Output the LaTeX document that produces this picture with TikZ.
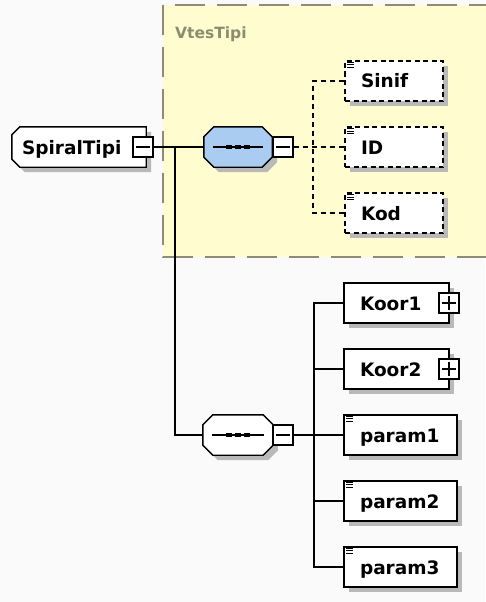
\documentclass[tikz,border=0pt]{standalone}
\usepackage{fontspec}
\setmainfont{DejaVu Sans}
\usetikzlibrary{shadows,calc}

\definecolor{pagebg}{RGB}{250,250,250}
\definecolor{groupfill}{RGB}{255,253,208}
\definecolor{groupline}{RGB}{140,140,120}
\definecolor{grouptext}{RGB}{140,140,110}
\definecolor{seqblue}{RGB}{170,204,240}
\definecolor{shadowgray}{RGB}{185,185,185}

\pgfdeclarelayer{back}
\pgfdeclarelayer{under}
\pgfsetlayers{back,under,main}

\tikzset{
  wire/.style={line width=1.4pt},
  dwire/.style={line width=1.3pt, dash pattern=on 5pt off 4pt},
  elem/.style={draw, line width=1.4pt, fill=white, rectangle,
    minimum height=40pt, inner ysep=0pt, inner xsep=16pt,
    text height=14pt, text depth=0pt, align=left,
    font=\fontsize{18.5}{21}\selectfont\bfseries,
    drop shadow={shadow xshift=5pt, shadow yshift=-5pt, fill=shadowgray, opacity=1}},
  optelem/.style={elem, line width=1.3pt, dash pattern=on 5pt off 3.5pt},
  holder/.style={rectangle, draw=none, inner ysep=0pt, minimum height=40pt,
    text height=14pt, text depth=0pt, align=left,
    font=\fontsize{18.5}{21}\selectfont\bfseries},
  toggle/.style={draw, line width=1.2pt, fill=white, rectangle,
    minimum size=20pt, inner sep=0pt},
}

% element tab: left corners cut
\newcommand\tabpath[3]{%
  \path[#3] ([xshift=#2]#1.north west) -- (#1.north east) -- (#1.south east)
    -- ([xshift=#2]#1.south west) -- ([yshift=#2]#1.south west)
    -- ([yshift=-#2]#1.north west) -- cycle;}
% sequence compositor: all corners cut
\newcommand\octpath[3]{%
  \path[#3] ([xshift=#2]#1.north west) -- ([xshift=-#2]#1.north east)
    -- ([yshift=-#2]#1.north east) -- ([yshift=#2]#1.south east)
    -- ([xshift=-#2]#1.south east) -- ([xshift=#2]#1.south west)
    -- ([yshift=#2]#1.south west) -- ([yshift=-#2]#1.north west) -- cycle;}
% sequence glyph: line with three dots
\newcommand\seqglyph[1]{%
  \draw[wire] ([xshift=9pt]#1.west) -- ([xshift=-9pt]#1.east);
  \foreach \dx in {-9,0,9}
    \fill ([xshift=\dx pt]#1.center) +(-2.8,-2.4) rectangle +(2.8,2.4);}
% minus / plus marks inside toggles
\newcommand\minusmark[1]{%
  \draw[line width=1.2pt] ([xshift=4pt]#1.west) -- ([xshift=-4pt]#1.east);}
\newcommand\plusmark[1]{%
  \minusmark{#1}
  \draw[line width=1.2pt] ([yshift=-4pt]#1.north) -- ([yshift=4pt]#1.south);}
% simple-content marker in the top left corner
\newcommand\docmark[1]{%
  \foreach \dy in {2.4,4.6,6.8}
    \draw[line width=0.9pt] ([xshift=3pt,yshift=-\dy pt]#1.north west) -- ++(7,0);}

\begin{document}
\begin{tikzpicture}[x=1pt,y=-1pt]
\useasboundingbox (0,0) rectangle (485,602);

\begin{pgfonlayer}{back}
  \fill[pagebg] (0,0) rectangle (485,602);
  \draw[groupline, fill=groupfill, line width=1.3pt, dash pattern=on 30pt off 12pt]
    (163,5) rectangle (520,257);
\end{pgfonlayer}

\node[anchor=base west, text=grouptext, font=\fontsize{15.5}{18}\selectfont\bfseries,
  inner sep=0pt] (grouplabel) at (175,38) {VtesTipi};

% root element
\node[holder, minimum width=134pt, inner xsep=10pt, text width=114pt] (spiral) at (79,147) {SpiralTipi};
\node[toggle] (spiral-t) at (143,147) {};
\minusmark{spiral-t}

% sequence inside the group
\node[holder, minimum width=68pt, inner xsep=0pt] (seq1) at (238,147) {};
\node[toggle] (seq1-t) at (283,147) {};
\minusmark{seq1-t}

% second sequence
\node[holder, minimum width=70pt, inner xsep=0pt] (seq2) at (238,435) {};
\node[toggle] (seq2-t) at (283,435) {};
\minusmark{seq2-t}

\begin{pgfonlayer}{under}
  \begin{scope}[transform canvas={shift={(5pt,-5pt)}}]
    \tabpath{spiral}{8pt}{fill=shadowgray}
    \octpath{seq1}{10pt}{fill=shadowgray}
    \octpath{seq2}{10pt}{fill=shadowgray}
  \end{scope}
  \tabpath{spiral}{8pt}{draw, fill=white, line width=1.4pt}
  \octpath{seq1}{10pt}{draw, fill=seqblue, line width=1.4pt}
  \octpath{seq2}{10pt}{draw, fill=white, line width=1.4pt}
\end{pgfonlayer}
\seqglyph{seq1}
\seqglyph{seq2}

% optional group members
\node[optelem, text width=66pt] (sinif) at (394,81) {Sinif};
\node[optelem, text width=66pt] (id) at (394,147) {ID};
\node[optelem, text width=66pt] (kod) at (394,213) {Kod};
\docmark{sinif}
\docmark{id}
\docmark{kod}

% sequence members
\node[elem, text width=73pt] (koor1) at (396.5,303) {Koor1};
\node[elem, text width=73pt] (koor2) at (396.5,369) {Koor2};
\node[toggle] (koor1-t) at (449,303) {};
\node[toggle] (koor2-t) at (449,369) {};
\plusmark{koor1-t}
\plusmark{koor2-t}
\node[elem, text width=81pt] (param1) at (400.5,435) {param1};
\node[elem, text width=81pt] (param2) at (400.5,501) {param2};
\node[elem, text width=81pt] (param3) at (400.5,567) {param3};
\docmark{param1}
\docmark{param2}
\docmark{param3}

% connectors
\coordinate (trunk) at (175,147);
\draw[wire] (spiral-t.east) -- (seq1.west);
\draw[wire] (trunk) |- (seq2.west);

\coordinate (fan1) at (313,147);
\draw[dwire] (seq1-t.east) -- (id.west);
\draw[dwire] (sinif.west) -| (fan1) |- (kod.west);

\coordinate (fan2) at (314,435);
\draw[wire] (seq2-t.east) -- (param1.west);
\draw[wire] (koor1.west) -| (fan2) |- (param3.west);
\draw[wire] (koor2.west) -- (koor2.west -| fan2);
\draw[wire] (param2.west) -- (param2.west -| fan2);
\end{tikzpicture}
\end{document}
